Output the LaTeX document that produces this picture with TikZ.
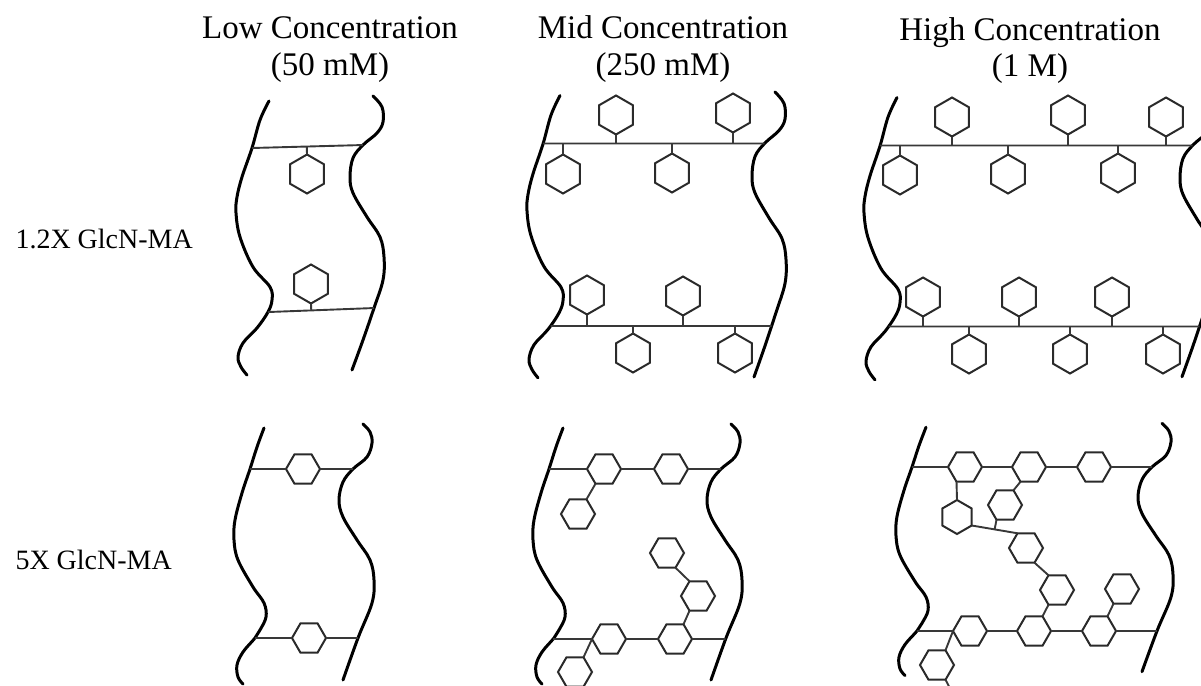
\documentclass[tikz,border=0pt]{standalone}
\usepackage{fontspec}
\setmainfont{Liberation Serif}
\usetikzlibrary{shapes.geometric,intersections,calc}
\definecolor{hexgray}{HTML}{2A2A2A}
\definecolor{linkgray}{HTML}{383838}

% chain outlines, relative to the point where the upper crosslink meets them
\def\wtopL{(17,-47) (8,-28) (0,0) (-10,29) (-15,49) (-16,65) (-12,89) (1,119) (18,139) (20,152) (16,164) (5,180) (-9,195) (-14,209) (-11,219) (-5,227)}
\def\wtopR{(10,-49) (19,-38) (20,-23) (14,-12) (0,0) (-10,13) (-13,32) (-10,48) (4,72) (17,92) (21,112) (20,135) (11,163) (0,195) (-11,225)}
\def\wbotL{(14,-41) (7,-22) (0,0) (-8,24) (-15,51) (-16,71) (-12,91) (3,118) (14,134) (16,148) (10,161) (5,169) (-7,183) (-13,196) (-12,208) (-7,215)}
\def\wbotR{(10,-45) (17,-37) (19,-26) (14,-12) (0,0) (-10,13) (-14,31) (-10,48) (4,71) (17,91) (21,111) (19,134) (5,169) (-10,211)}

% #1 path name, #2 anchor point, #3 vertical stretch, #4 outline
\newcommand\drawwave[4]{\edef\wavetmp{\noexpand\draw[wave,name path=#1,shift={#2},yscale=#3] plot[smooth,tension=0.6] coordinates {#4};}\wavetmp}
% end points #5l and #5r of a crosslink between chains #1 and #2 along the line #3 -- #4
\newcommand\crossline[5]{%
  \path[name path=helper] #3 -- #4;
  \path[name intersections={of=#1 and helper,by={#5l}}];
  \path[name intersections={of=#2 and helper,by={#5r}}];
}

\begin{document}
\begin{tikzpicture}[x=1pt,y=-1pt,
  wave/.style={line width=3pt,line cap=round,line join=round},
  link/.style={draw=linkgray,line width=1.9pt},
  hexflat/.style={regular polygon,regular polygon sides=6,draw=hexgray,line width=2pt,
    minimum size=34pt,inner sep=0pt,outer sep=0pt},
  hexup/.style={hexflat,shape border rotate=30,minimum size=39pt},
  hexupsmall/.style={hexflat,shape border rotate=30},
  title/.style={anchor=base,font=\fontsize{33}{36}\selectfont},
  rowlabel/.style={anchor=base west,font=\fontsize{28}{32}\selectfont}]
\clip (0,0) rectangle (1201,685);

% headings
\node[title] (t1a) at (330,39) {Low Concentration};
\node[title] (t1b) at (330,75) {(50 mM)};
\node[title] (t2a) at (663,39) {Mid Concentration};
\node[title] (t2b) at (663,75) {(250 mM)};
\node[title] (t3a) at (1030,41) {High Concentration};
\node[title] (t3b) at (1030,77) {(1 M)};
\node[rowlabel] (r1) at (12,248) {1.2X GlcN-MA};
\node[rowlabel] (r2) at (12,569) {5X GlcN-MA};

% ---------- 1.2X, low
\drawwave{L1}{(252,148)}{1}{\wtopL}
\drawwave{R1}{(363,145)}{1}{\wtopR}
\crossline{L1}{R1}{(200,149.4)}{(420,143.5)}{a1}
\crossline{L1}{R1}{(200,314.6)}{(420,306.3)}{b1}
\draw[link] (a1l) -- (a1r);
\draw[link] (b1l) -- (b1r);
\node[hexup] (h11) at (307,174) {};
\node[hexup] (h12) at (311,284) {};
\draw[link] (h11.90) -- ($(a1l)!(h11.90)!(a1r)$);
\draw[link] (h12.270) -- ($(b1l)!(h12.270)!(b1r)$);

% ---------- 1.2X, mid
\drawwave{L2}{(543,144)}{1.03}{\wtopL}
\drawwave{R2}{(765,143)}{1.04}{\wtopR}
\crossline{L2}{R2}{(480,143.5)}{(840,143.5)}{a2}
\crossline{L2}{R2}{(480,326)}{(840,326)}{b2}
\draw[link] (a2l) -- (a2r);
\draw[link] (b2l) -- (b2r);
\node[hexup] (h21) at (616,115) {};
\node[hexup] (h22) at (733,113) {};
\node[hexup] (h23) at (563,174) {};
\node[hexup] (h24) at (672,173) {};
\node[hexup] (h25) at (587,295) {};
\node[hexup] (h26) at (683,296) {};
\node[hexup] (h27) at (633,353) {};
\node[hexup] (h28) at (735,353) {};
\foreach \h in {h21,h22} \draw[link] (\h.270) -- ($(a2l)!(\h.270)!(a2r)$);
\foreach \h in {h23,h24} \draw[link] (\h.90) -- ($(a2l)!(\h.90)!(a2r)$);
\foreach \h in {h25,h26} \draw[link] (\h.270) -- ($(b2l)!(\h.270)!(b2r)$);
\foreach \h in {h27,h28} \draw[link] (\h.90) -- ($(b2l)!(\h.90)!(b2r)$);

% ---------- 1.2X, high
\drawwave{L3}{(880,146)}{1.03}{\wtopL}
\drawwave{R3}{(1193,145)}{1.03}{\wtopR}
\crossline{L3}{R3}{(820,145.5)}{(1260,145.5)}{a3}
\crossline{L3}{R3}{(820,326.5)}{(1260,326.5)}{b3}
\draw[link] (a3l) -- (a3r);
\draw[link] (b3l) -- (b3r);
\node[hexup] (h31) at (952,117) {};
\node[hexup] (h32) at (1068,115) {};
\node[hexup] (h33) at (1166,117) {};
\node[hexup] (h34) at (900,175) {};
\node[hexup] (h35) at (1008,174) {};
\node[hexup] (h36) at (1118,173) {};
\node[hexup] (h37) at (923,297) {};
\node[hexup] (h38) at (1019,297) {};
\node[hexup] (h39) at (1112,297) {};
\node[hexup] (h3a) at (969,354) {};
\node[hexup] (h3b) at (1070,354) {};
\node[hexup] (h3c) at (1163,354) {};
\foreach \h in {h31,h32,h33} \draw[link] (\h.270) -- ($(a3l)!(\h.270)!(a3r)$);
\foreach \h in {h34,h35,h36} \draw[link] (\h.90) -- ($(a3l)!(\h.90)!(a3r)$);
\foreach \h in {h37,h38,h39} \draw[link] (\h.270) -- ($(b3l)!(\h.270)!(b3r)$);
\foreach \h in {h3a,h3b,h3c} \draw[link] (\h.90) -- ($(b3l)!(\h.90)!(b3r)$);

% ---------- 5X, low
\drawwave{L4}{(250,469)}{1}{\wbotL}
\drawwave{R4}{(353,469)}{1}{\wbotR}
\crossline{L4}{R4}{(200,469)}{(420,469)}{a4}
\crossline{L4}{R4}{(200,638)}{(420,638)}{b4}
\node[hexflat] (h41) at (303,469) {};
\node[hexflat] (h42) at (309,638) {};
\draw[link] (a4l) -- (h41.180) (h41.0) -- (a4r);
\draw[link] (b4l) -- (h42.180) (h42.0) -- (b4r);

% ---------- 5X, mid
\drawwave{L5}{(549,469)}{1}{\wbotL}
\drawwave{R5}{(721,469)}{1}{\wbotR}
\crossline{L5}{R5}{(490,469)}{(800,469)}{a5}
\crossline{L5}{R5}{(490,639)}{(800,639)}{b5}
\node[hexflat] (t51) at (604,469) {};
\node[hexflat] (t52) at (671,469) {};
\node[hexflat] (s51) at (578,514) {};
\node[hexflat] (m51) at (667,553) {};
\node[hexflat] (m52) at (698,596) {};
\node[hexflat] (u51) at (609,639) {};
\node[hexflat] (u52) at (675,639) {};
\node[hexflat] (s52) at (575,672) {};
\draw[link] (a5l) -- (t51.180) (t51.0) -- (t52.180) (t52.0) -- (a5r);
\draw[link] (b5l) -- (u51.180) (u51.0) -- (u52.180) (u52.0) -- (b5r);
\draw[link] (t51.240) -- (s51.60);
\draw[link] (m51.300) -- (m52.120);
\draw[link] (m52.240) -- (u52.60);
\draw[link] (u51.180) -- (s52.60);

% ---------- 5X, high
\drawwave{L6}{(912,467)}{0.97}{\wbotL}
\drawwave{R6}{(1152,467)}{0.97}{\wbotR}
\crossline{L6}{R6}{(860,467)}{(1220,467)}{a6}
\crossline{L6}{R6}{(860,631)}{(1220,631)}{b6}
\node[hexflat] (t61) at (965,467) {};
\node[hexflat] (t62) at (1029,467) {};
\node[hexflat] (t63) at (1094,467) {};
\node[hexupsmall] (n6a) at (957,517) {};
\node[hexflat] (n6b) at (1005,505) {};
\node[hexflat] (n6c) at (1026,548) {};
\node[hexflat] (n6d) at (1057,590) {};
\node[hexflat] (n6e) at (1122,589) {};
\node[hexflat] (u61) at (970,631) {};
\node[hexflat] (u62) at (1034,631) {};
\node[hexflat] (u63) at (1099,631) {};
\node[hexflat] (n6f) at (937,665) {};
\coordinate (n6g) at (953,694);
\draw[link] (a6l) -- (t61.180) (t61.0) -- (t62.180) (t62.0) -- (t63.180) (t63.0) -- (a6r);
\draw[link] (b6l) -- (u61.180) (u61.0) -- (u62.180) (u62.0) -- (u63.180) (u63.0) -- (b6r);
\draw[link] (t61.240) -- (n6a.90);
\draw[link] (t62.240) -- (n6b.60);
\draw[link] (n6a.330) -- (n6c.120);
\draw[link] (n6b.240) -- ($(n6a.330)!0.5!(n6c.120)$);
\draw[link] (n6c.300) -- (n6d.120);
\draw[link] (n6d.240) -- (u62.60);
\draw[link] (n6e.240) -- (u63.60);
\draw[link] (u61.180) -- (n6f.60);
\draw[link] (n6f.300) -- (n6g);
\end{tikzpicture}
\end{document}
